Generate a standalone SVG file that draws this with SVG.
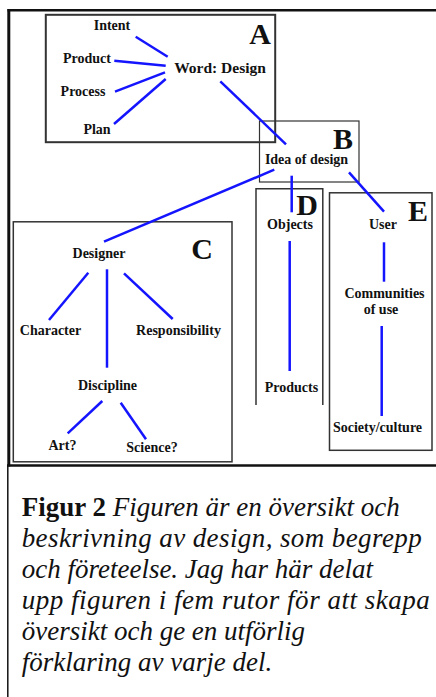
<svg xmlns="http://www.w3.org/2000/svg" width="436" height="697" viewBox="0 0 436 697">
<style>
.frame{stroke:#111;fill:none}
.box{fill:none;stroke:#333}
.lbl{font-family:"Liberation Serif","Times New Roman",serif;font-weight:bold;font-size:14px;fill:#111;text-anchor:middle}
.big{font-family:"Liberation Serif","Times New Roman",serif;font-weight:bold;font-size:30px;fill:#111;text-anchor:end}
.conn line{stroke:#1414ff;stroke-width:2.5;fill:none}
.cap{font-family:"Liberation Serif","Times New Roman",serif;font-size:27px;fill:#111;font-style:italic}
.cap .b{font-style:normal;font-weight:bold}
</style>
<rect width="436" height="697" fill="#fff"/>
<g id="frame">
<line class="frame" x1="7.5" y1="10.3" x2="436" y2="10.3" stroke-width="2.5"/>
<line class="frame" x1="8.8" y1="9" x2="8.8" y2="466.5" stroke-width="3"/>
<line class="frame" x1="7" y1="465.5" x2="436" y2="465.5" stroke-width="2.5"/>
<line class="frame" x1="7.8" y1="465" x2="7.8" y2="697" stroke-width="1.5"/>
</g>
<g id="box-A"><rect class="box" x="45.8" y="14.8" width="229.4" height="127.4" stroke-width="2"/><text class="big" x="271" y="43.5">A</text></g>
<g id="box-B"><rect class="box" x="259.5" y="121" width="99.5" height="61" stroke-width="1.2"/><text class="big" x="353" y="148.5">B</text></g>
<g id="box-C"><rect class="box" x="13.3" y="221.8" width="218.7" height="240" stroke-width="1.5"/><text class="big" x="213" y="259">C</text></g>
<g id="box-D"><path class="box" d="M256,405 V188.8 H322.8 V405" stroke-width="1.5"/><text class="big" x="318" y="214.5">D</text></g>
<g id="box-E"><rect class="box" x="329.5" y="192.8" width="102.5" height="257.5" stroke-width="1.5"/><text class="big" x="428" y="221">E</text></g>
<g id="connectors" class="conn">
<line x1="135.7" y1="36.7" x2="167.7" y2="56.7"/>
<line x1="114.3" y1="60.7" x2="165.7" y2="65.7"/>
<line x1="115" y1="91.7" x2="165" y2="72.3"/>
<line x1="114" y1="124" x2="165.7" y2="79"/>
<line x1="220.3" y1="81.3" x2="286" y2="144.3"/>
<line x1="274.3" y1="169.7" x2="104" y2="241.7"/>
<line x1="291.7" y1="175.7" x2="291.7" y2="212.3"/>
<line x1="349" y1="172.3" x2="384" y2="211.7"/>
<line x1="88.3" y1="272.7" x2="49" y2="320"/>
<line x1="107" y1="269.3" x2="107" y2="367.7"/>
<line x1="124" y1="273.3" x2="172.7" y2="319"/>
<line x1="102.3" y1="401" x2="67.7" y2="433.3"/>
<line x1="120.7" y1="402.7" x2="146" y2="439.3"/>
<line x1="289.7" y1="241" x2="289.7" y2="371"/>
<line x1="384" y1="242.3" x2="384" y2="281.7"/>
<line x1="381.7" y1="326" x2="381.7" y2="416"/>
</g>
<g id="intent"><text class="lbl" x="112" y="30">Intent</text></g>
<g id="product"><text class="lbl" x="87" y="63">Product</text></g>
<g id="process"><text class="lbl" x="83" y="96">Process</text></g>
<g id="plan"><text class="lbl" x="97" y="134">Plan</text></g>
<g id="word-design"><text class="lbl" x="220" y="73" style="font-size:15.5px">Word: Design</text></g>
<g id="idea-of-design"><text class="lbl" x="306.5" y="163.5">Idea of design</text></g>
<g id="designer"><text class="lbl" x="99" y="258">Designer</text></g>
<g id="character"><text class="lbl" x="50.5" y="335">Character</text></g>
<g id="responsibility"><text class="lbl" x="178.5" y="335">Responsibility</text></g>
<g id="discipline"><text class="lbl" x="107.5" y="390">Discipline</text></g>
<g id="art"><text class="lbl" x="62.5" y="450">Art?</text></g>
<g id="science"><text class="lbl" x="152" y="451.5">Science?</text></g>
<g id="objects"><text class="lbl" x="290" y="228.5">Objects</text></g>
<g id="products"><text class="lbl" x="291.5" y="391.5">Products</text></g>
<g id="user"><text class="lbl" x="383" y="228.5">User</text></g>
<g id="communities"><text class="lbl" x="384.5" y="298">Communities</text><text class="lbl" x="381" y="314">of use</text></g>
<g id="society"><text class="lbl" x="377.5" y="431.5">Society/culture</text></g>
<g id="caption">
<text class="cap" x="21.7" y="516"><tspan class="b">Figur 2</tspan> Figuren är en översikt och</text>
<text class="cap" x="21.7" y="547" textLength="400">beskrivning av design, som begrepp</text>
<text class="cap" x="21.7" y="578">och företeelse. Jag har här delat</text>
<text class="cap" x="21.7" y="609" textLength="408">upp figuren i fem rutor för att skapa</text>
<text class="cap" x="21.7" y="640">översikt och ge en utförlig</text>
<text class="cap" x="21.7" y="671">förklaring av varje del.</text>
</g>
</svg>
